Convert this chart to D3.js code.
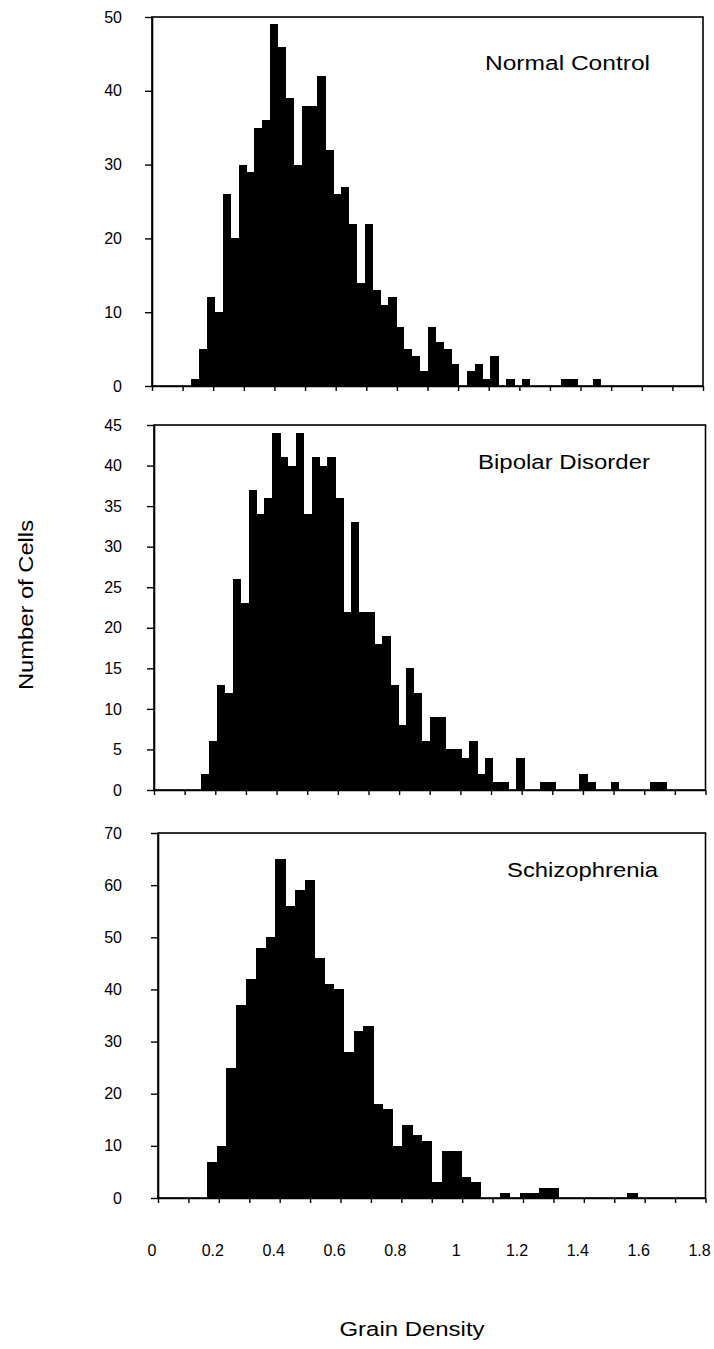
<!DOCTYPE html>
<html>
<head>
<meta charset="utf-8">
<script src="https://cdn.jsdelivr.net/npm/d3@7"></script>
<style>
  html, body { margin: 0; padding: 0; background: #fff; }
  svg { display: block; }
  text { font-family: "Liberation Sans", Arial, sans-serif; fill: #000; }
</style>
</head>
<body>
<script>
// ---------------- DATA ----------------
const xTickValues = [0, 0.2, 0.4, 0.6, 0.8, 1, 1.2, 1.4, 1.6, 1.8];
const xTickLabels = ["0", "0.2", "0.4", "0.6", "0.8", "1", "1.2", "1.4", "1.6", "1.8"];
const xMinorTicks = [0, 0.1, 0.2, 0.3, 0.4, 0.5, 0.6, 0.7, 0.8, 0.9, 1, 1.1, 1.2, 1.3, 1.4, 1.5, 1.6, 1.7, 1.8];

const panelTitles = ["Normal Control", "Bipolar Disorder", "Schizophrenia"];
const yAxisTitle = "Number of Cells";
const xAxisTitle = "Grain Density";

const yTicksNormal = [0, 10, 20, 30, 40, 50];
const yTicksBipolar = [0, 5, 10, 15, 20, 25, 30, 35, 40, 45];
const yTicksSchizo = [0, 10, 20, 30, 40, 50, 60, 70];

// counts per histogram bin (bins span the 0 - 1.8 axis evenly)
const normalControl = [
  0, 0, 0, 0, 0,   1, 5, 12, 10, 26,   20, 30, 29, 35, 36,   49, 46, 39, 30, 38,
  38, 42, 32, 26, 27,   22, 14, 22, 13, 11,   12, 8, 5, 4, 2,   8, 6, 5, 3, 0,
  2, 3, 1, 4, 0,   1, 0, 1, 0, 0,   0, 0, 1, 1, 0,   0, 1, 0, 0, 0,
  0, 0, 0, 0, 0,   0, 0, 0, 0, 0
];
const bipolarDisorder = [
  0, 0, 0, 0, 0,   0, 2, 6, 13, 12,   26, 23, 37, 34, 36,   44, 41, 40, 44, 34,
  41, 40, 41, 36, 22,   33, 22, 22, 18, 19,   13, 8, 15, 12, 6,   9, 9, 5, 5, 4,
  6, 2, 4, 1, 1,   0, 4, 0, 0, 1,   1, 0, 0, 0, 2,   1, 0, 0, 1, 0,
  0, 0, 0, 1, 1,   0, 0, 0, 0, 0
];
const schizophrenia = [
  0, 0, 0, 0, 0,   7, 10, 25, 37, 42,   48, 50, 65, 56, 59,   61, 46, 41, 40, 28,
  32, 33, 18, 17, 10,   14, 12, 11, 3, 9,   9, 4, 3, 0, 0,   1, 0, 1, 1, 2,
  2, 0, 0, 0, 0,   0, 0, 0, 1, 0,   0, 0, 0, 0, 0,   0
];

// ---------------- LAYOUT ----------------
const W = 714, H = 1349;
const panels = [
  { title: panelTitles[0], counts: normalControl,   yTicks: yTicksNormal,  yMax: 50,
    left: 152, right: 703,   top: 17,  bottom: 386,  titleX: 485, titleY: 70,  titleLen: 165 },
  { title: panelTitles[1], counts: bipolarDisorder, yTicks: yTicksBipolar, yMax: 45,
    left: 154, right: 705.5, top: 425, bottom: 790,  titleX: 478, titleY: 469, titleLen: 172 },
  { title: panelTitles[2], counts: schizophrenia,   yTicks: yTicksSchizo,  yMax: 70,
    left: 158, right: 705.5, top: 833, bottom: 1198, titleX: 507, titleY: 877, titleLen: 151 }
];
const labelRight = 122;     // right edge of y tick labels
const tickLen = 7;

const svg = d3.select("body").append("svg")
  .attr("width", W).attr("height", H)
  .attr("viewBox", `0 0 ${W} ${H}`);

svg.append("rect").attr("width", W).attr("height", H).attr("fill", "#fff");

panels.forEach((p, pi) => {
  const g = svg.append("g");
  const x = d3.scaleLinear().domain([0, 1.8]).range([p.left, p.right]);
  const bins = d3.range(p.counts.length);
  const xb = d3.scaleBand().domain(bins).range([p.left, p.right]).padding(0);
  const y = d3.scaleLinear().domain([0, p.yMax]).range([p.bottom, p.top]);

  // bars
  g.append("g").selectAll("rect")
    .data(p.counts.map((c, i) => ({ i, c })).filter(d => d.c > 0))
    .join("rect")
    .attr("x", d => xb(d.i))
    .attr("width", xb.bandwidth() + 0.5)
    .attr("y", d => y(d.c))
    .attr("height", d => y(0) - y(d.c))
    .attr("fill", "#000")
    .attr("shape-rendering", "crispEdges");

  // frame
  g.append("rect")
    .attr("x", p.left).attr("y", p.top)
    .attr("width", p.right - p.left).attr("height", p.bottom - p.top)
    .attr("fill", "none").attr("stroke", "#000").attr("stroke-width", 1.6);

  // y axis
  const yAxis = d3.axisLeft(y).tickValues(p.yTicks).tickFormat(d3.format("d"))
    .tickSize(tickLen).tickSizeOuter(0)
    .tickPadding(p.left - labelRight - tickLen);
  const ya = g.append("g").attr("transform", `translate(${p.left},0)`).call(yAxis);
  ya.select(".domain").attr("stroke", "#000").attr("stroke-width", 1.6);
  ya.selectAll(".tick line").attr("stroke", "#000").attr("stroke-width", 1.4);
  ya.selectAll(".tick text").attr("font-size", 16).attr("font-family", "Liberation Sans, Arial, sans-serif");

  // x axis (ticks every 0.1, labels only under the bottom panel)
  const xAxis = d3.axisBottom(x).tickValues(xMinorTicks).tickFormat("")
    .tickSize(5).tickSizeOuter(0);
  const xa = g.append("g").attr("transform", `translate(0,${p.bottom})`).call(xAxis);
  xa.select(".domain").attr("stroke", "#000").attr("stroke-width", 1.6);
  xa.selectAll(".tick line").attr("stroke", "#000").attr("stroke-width", 1.4);

  if (pi === panels.length - 1) {
    g.append("g").selectAll("text")
      .data(xTickValues)
      .join("text")
      .attr("x", d => x(d) - 6)
      .attr("y", 1256)
      .attr("text-anchor", "middle")
      .attr("font-size", 16)
      .text((d, i) => xTickLabels[i]);
  }

  // panel title
  g.append("text")
    .attr("x", p.titleX).attr("y", p.titleY)
    .attr("font-size", 20)
    .attr("textLength", p.titleLen)
    .attr("lengthAdjust", "spacingAndGlyphs")
    .text(p.title);
});

// axis titles
svg.append("text")
  .attr("transform", "translate(33,605) rotate(-90)")
  .attr("text-anchor", "middle")
  .attr("font-size", 20)
  .attr("textLength", 170)
  .attr("lengthAdjust", "spacingAndGlyphs")
  .text(yAxisTitle);

svg.append("text")
  .attr("x", 412).attr("y", 1336)
  .attr("text-anchor", "middle")
  .attr("font-size", 20)
  .attr("textLength", 145)
  .attr("lengthAdjust", "spacingAndGlyphs")
  .text(xAxisTitle);
</script>
</body>
</html>
